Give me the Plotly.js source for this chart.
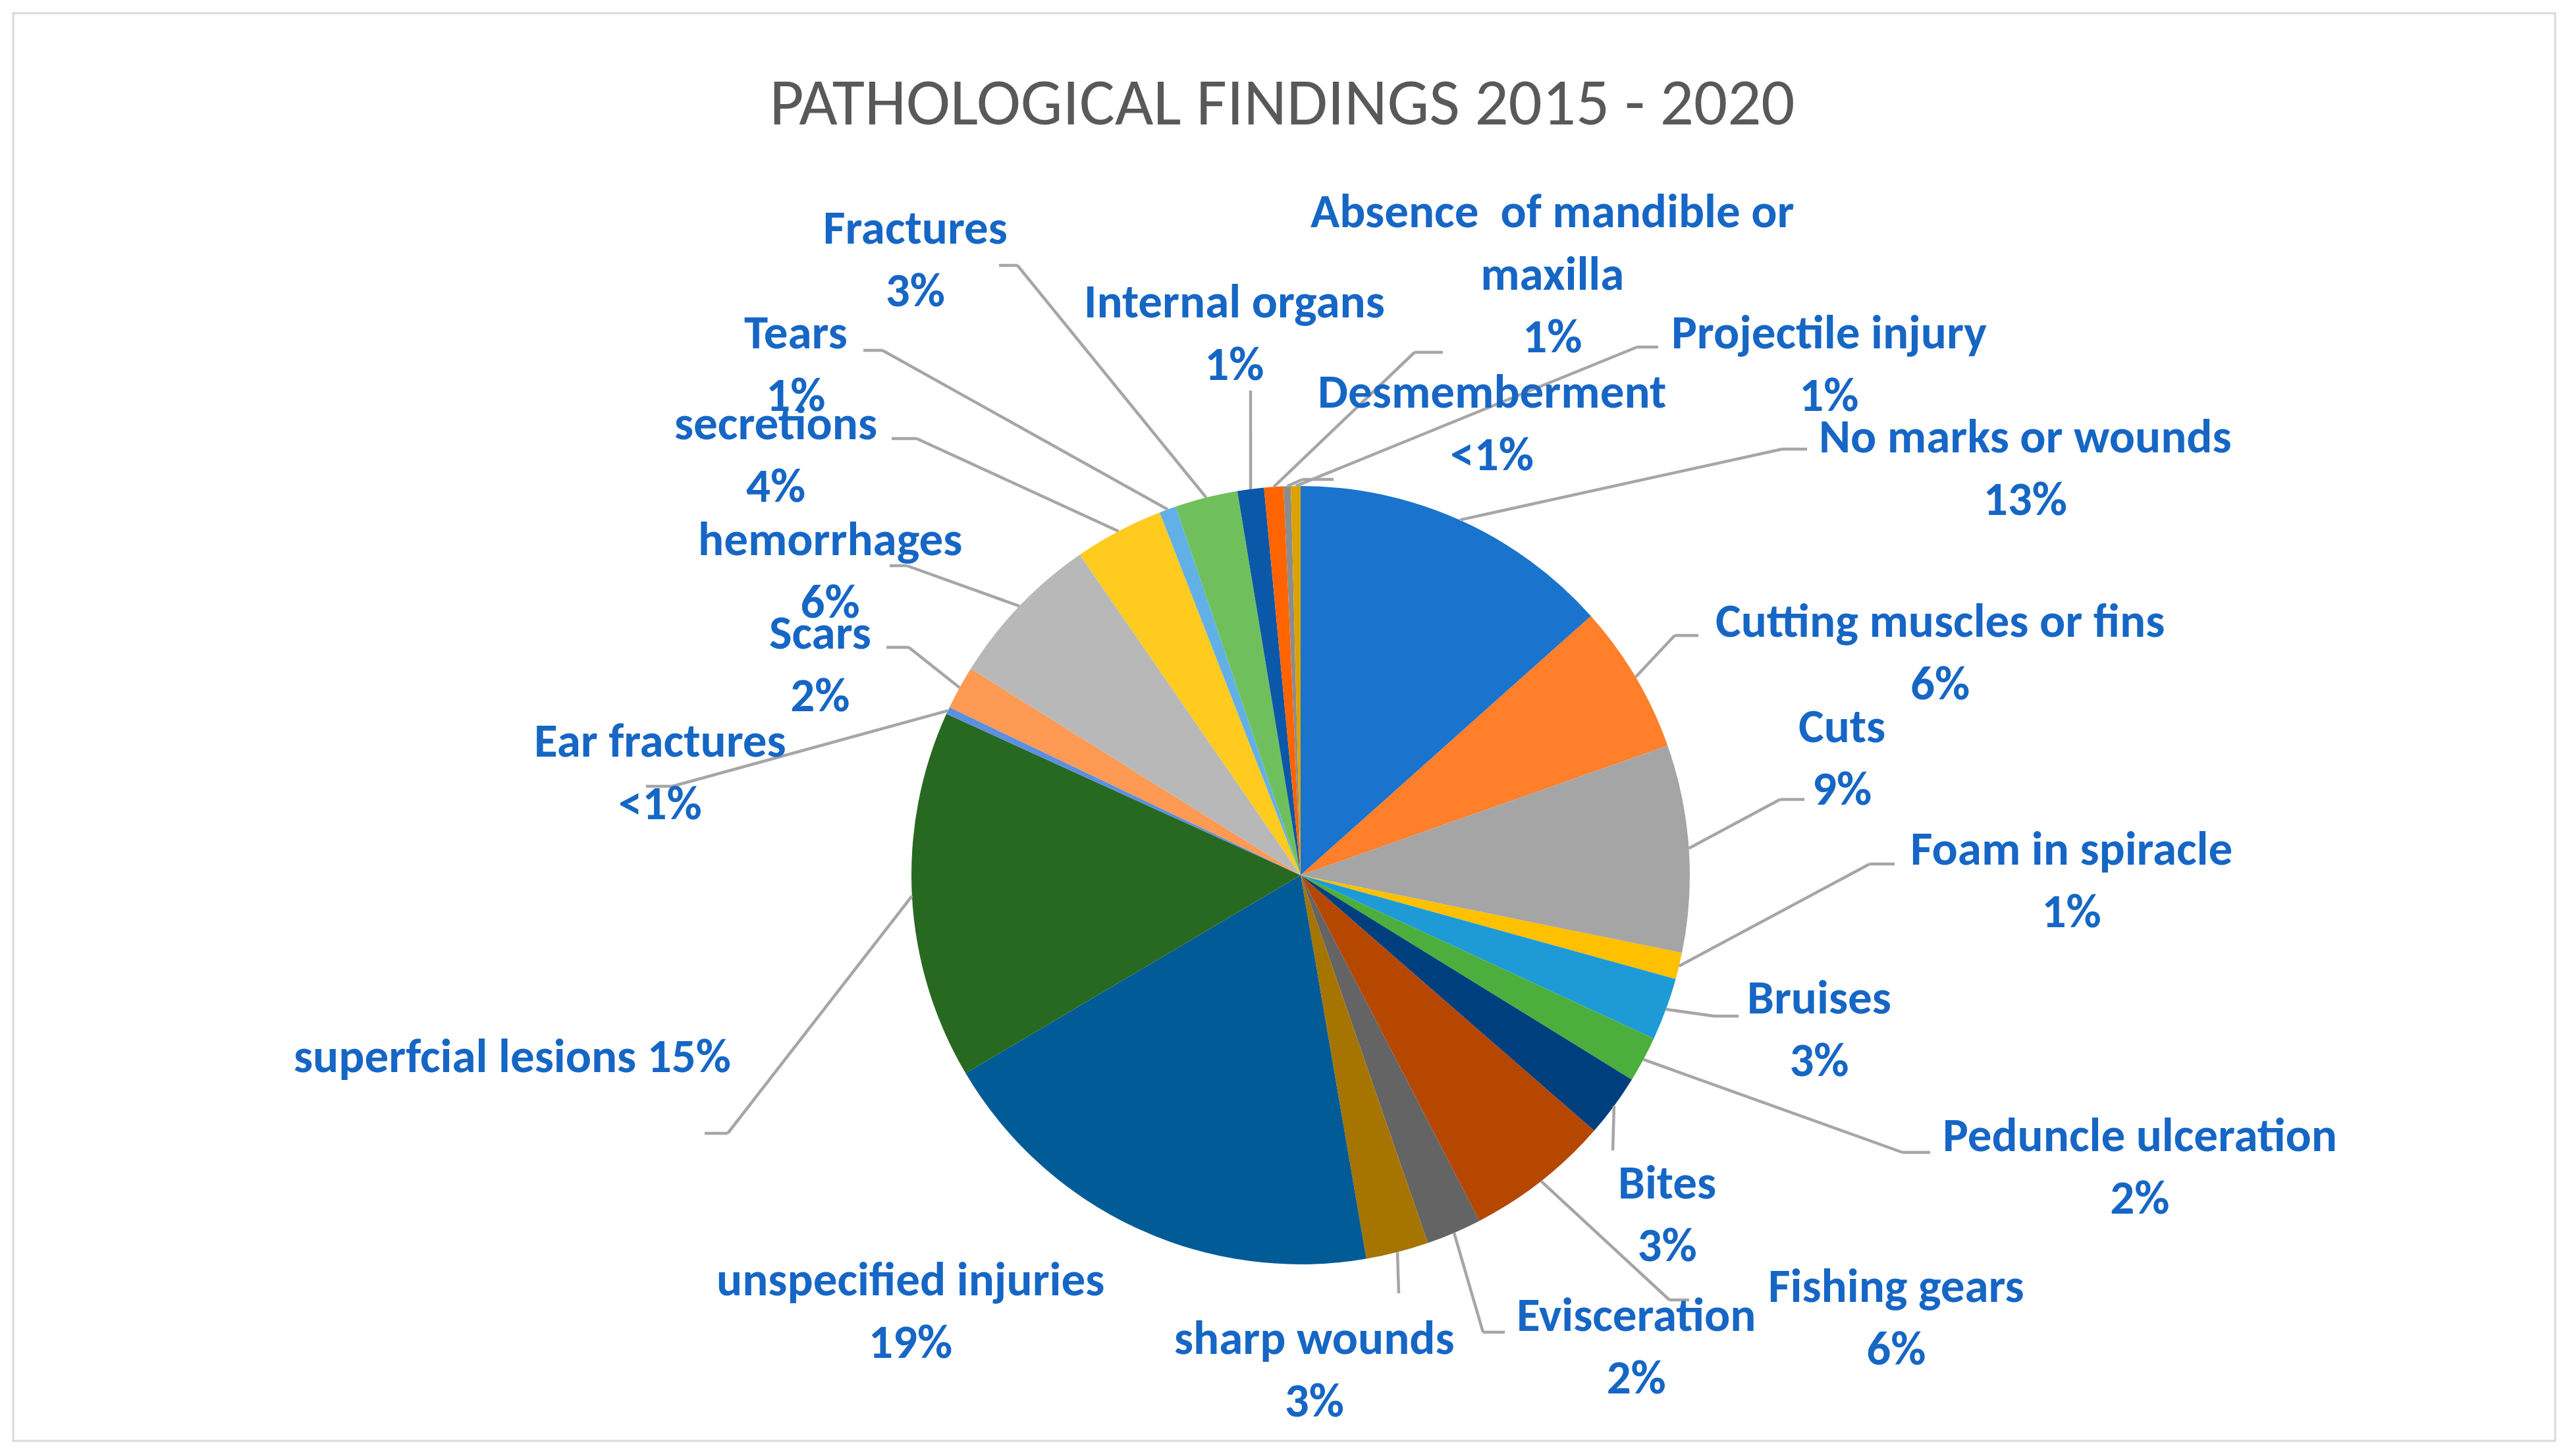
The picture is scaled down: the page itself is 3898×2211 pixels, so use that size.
<!DOCTYPE html>
<html>
<head>
<meta charset="utf-8">
<script src="https://cdn.plot.ly/plotly-3.0.1.min.js"></script>
<style>
  html, body { margin: 0; padding: 0; background: #fff; }
  #pie { width: 3898px; height: 2211px; }
</style>
</head>
<body>
<div id="pie"></div>
<script>
// slices, clockwise from 12 o'clock (values read as share of all findings, %)
var categories = ['No marks or wounds', 'Cutting muscles or fins', 'Cuts', 'Foam in spiracle',
  'Bruises', 'Peduncle ulceration', 'Bites', 'Fishing gears', 'Evisceration', 'sharp wounds',
  'unspecified injuries', 'superfcial lesions', 'Ear fractures', 'Scars', 'hemorrhages',
  'secretions', 'Tears', 'Fractures', 'Internal organs', 'Absence  of mandible or maxilla',
  'Desmemberment', 'Projectile injury'];
var values = [13.4, 6.2, 8.6, 1.1, 2.6, 1.9, 2.6, 6.0, 2.3, 2.6,
  19.2, 15.3, 0.3, 1.8, 6.5, 3.7, 0.7, 2.6, 1.1, 0.8, 0.3, 0.4];
var percentText = ['13%', '6%', '9%', '1%', '3%', '2%', '3%', '6%', '2%', '3%',
  '19%', '15%', '<1%', '2%', '6%', '4%', '1%', '3%', '1%', '1%', '<1%', '1%'];
var colors = ['#1a73cc', '#ff7f2a', '#a5a5a5', '#ffc000', '#1e9bd7', '#4cae3c', '#003f7d',
  '#b54700', '#646464', '#a67400', '#005b96', '#276921', '#5b8fe0', '#ff9a55', '#b8b8b8',
  '#ffcb1f', '#62b0e6', '#6fc05d', '#0b58a8', '#ff6400', '#8c8c8c', '#dca200'];

var W = 3898, H = 2211;
var CX = 1975, CY = 1329, R = 591;
function px(x) { return x / W; }
function py(y) { return 1 - y / H; }

// where each label sits (page pixels): text centre, leader elbow, leader end
var spots = [
  {x: 3075, y: 709,  elbow: [2706, 682],  end: [2744, 682]},
  {x: 2946, y: 989,  elbow: [2543, 965],  end: [2579, 965]},
  {x: 2797, y: 1149, elbow: [2703, 1214], end: [2740, 1214]},
  {x: 3145, y: 1335, elbow: [2839, 1312], end: [2877, 1312]},
  {x: 2762, y: 1561, elbow: [2603, 1543], end: [2640, 1543]},
  {x: 3249, y: 1770, elbow: [2889, 1750], end: [2931, 1750]},
  {x: 2531, y: 1842, elbow: [2449, 1747], end: [2449, 1747]},
  {x: 2879, y: 1999, elbow: [2535, 1974], end: [2565, 1974]},
  {x: 2484, y: 2043, elbow: [2252, 2023], end: [2285, 2023]},
  {x: 1996, y: 2078, elbow: [2124, 1964], end: [2124, 1964]},
  {x: 1382, y: 1989, elbow: null},
  {x: 778,  y: 1603, elbow: [1105, 1721], end: [1070, 1721], oneLine: true},
  {x: 1002, y: 1171, elbow: [1021, 1194], end: [981, 1194]},
  {x: 1245, y: 1007, elbow: [1380, 983],  end: [1346, 983]},
  {x: 1260, y: 865,  elbow: [1377, 859],  end: [1351, 859]},
  {x: 1178, y: 689,  elbow: [1392, 666],  end: [1354, 666]},
  {x: 1208, y: 552,  elbow: [1340, 532],  end: [1311, 532]},
  {x: 1390, y: 393,  elbow: [1545, 403],  end: [1517, 403]},
  {x: 1874, y: 505,  elbow: [1899, 593],  end: [1899, 593]},
  {x: 2357, y: 415,  elbow: [2148, 535],  end: [2191, 535], wrap: 'Absence\u00a0 of mandible or<br>maxilla'},
  {x: 2265, y: 641,  elbow: [1978, 728],  end: [2025, 728]},
  {x: 2777, y: 552,  elbow: [2486, 527],  end: [2518, 527]}
];

var labelFont = {family: 'Carlito, Lato, "Open Sans", sans-serif', size: 73, color: '#1666c5', weight: 'bold'};
var leaderLine = {color: '#a6a6a6', width: 4.5};

var total = values.reduce(function (a, b) { return a + b; }, 0);
var annotations = [];
var shapes = [];
var cum = 0;
values.forEach(function (v, i) {
  var mid = (cum + v / 2) / total * 2 * Math.PI;
  cum += v;
  var s = spots[i];
  var name = s.wrap || categories[i];
  annotations.push({
    xref: 'paper', yref: 'paper', x: px(s.x), y: py(s.y),
    xanchor: 'center', yanchor: 'middle', align: 'center', showarrow: false,
    text: name + (s.oneLine ? ' ' : '<br>') + percentText[i],
    font: labelFont
  });
  if (!s.elbow) return;
  var sx = CX + R * Math.sin(mid), sy = CY - R * Math.cos(mid);
  shapes.push({type: 'line', xref: 'paper', yref: 'paper',
    x0: px(sx), y0: py(sy), x1: px(s.elbow[0]), y1: py(s.elbow[1]), line: leaderLine});
  if (s.end[0] !== s.elbow[0] || s.end[1] !== s.elbow[1]) {
    shapes.push({type: 'line', xref: 'paper', yref: 'paper',
      x0: px(s.elbow[0]), y0: py(s.elbow[1]), x1: px(s.end[0]), y1: py(s.end[1]), line: leaderLine});
  }
});

// chart area border
shapes.push({type: 'rect', xref: 'paper', yref: 'paper', x0: px(20), x1: px(3880), y0: py(2188), y1: py(20),
  line: {color: '#d9d9d9', width: 3}, layer: 'below'});

var data = [{
  type: 'pie',
  labels: categories,
  values: values,
  sort: false,
  direction: 'clockwise',
  rotation: 0,
  textinfo: 'none',
  hoverinfo: 'label+percent',
  marker: {colors: colors, line: {width: 0}},
  domain: {x: [px(CX - R), px(CX + R)], y: [py(CY + R), py(CY - R)]},
  showlegend: false
}];

var layout = {
  width: W, height: H,
  margin: {l: 0, r: 0, t: 0, b: 0},
  paper_bgcolor: '#ffffff',
  title: {
    text: 'PATHOLOGICAL FINDINGS 2015 - 2020',
    x: px(1947), xanchor: 'center', y: py(154), yanchor: 'middle',
    font: {family: 'Carlito, Lato, "Open Sans", sans-serif', size: 101, color: '#595959'}
  },
  annotations: annotations,
  shapes: shapes
};

Plotly.newPlot('pie', data, layout, {displayModeBar: false});
</script>
</body>
</html>
